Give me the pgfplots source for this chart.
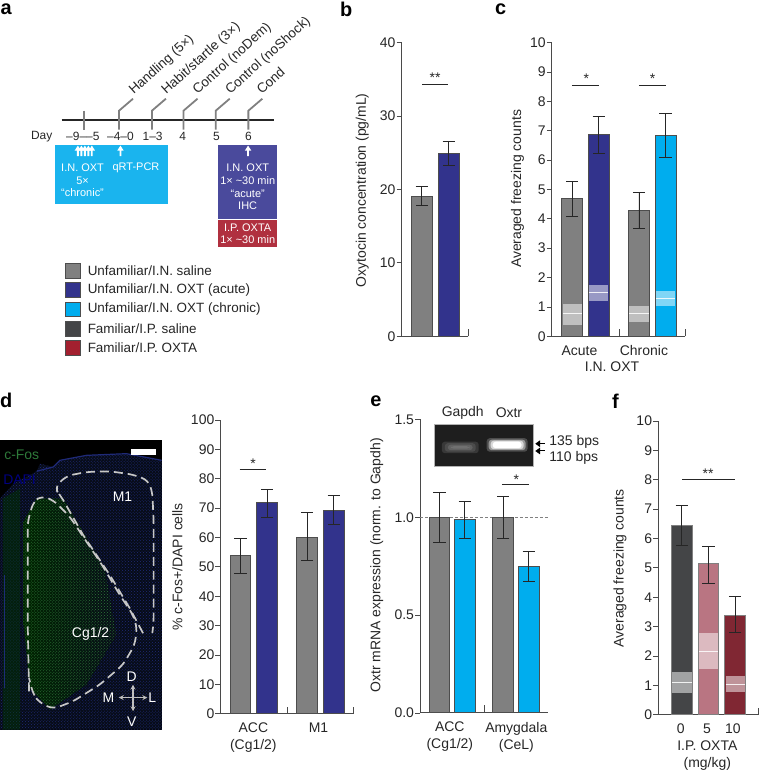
\documentclass[border=0pt]{standalone}
\usepackage{pgfplots}
\pgfplotsset{compat=1.18}
\usepackage{fontspec}
\setmainfont{Liberation Sans}
\usetikzlibrary{patterns}
\definecolor{ax}{HTML}{4A4A4A}
\definecolor{ink}{HTML}{262626}
\definecolor{gbar}{HTML}{808080}
\definecolor{bluebar}{HTML}{32338C}
\definecolor{cyanbar}{HTML}{00ADEE}
\definecolor{dkbar}{HTML}{444547}
\definecolor{redleg}{HTML}{A3202F}
\definecolor{pinkbar}{HTML}{B97582}
\definecolor{maroon}{HTML}{802733}
\definecolor{boxcyan}{HTML}{1AB4EE}
\definecolor{boxblue}{HTML}{4A4A9C}
\definecolor{boxred}{HTML}{B0303F}
\definecolor{edge}{HTML}{4D4D4D}
\definecolor{tissue}{HTML}{070C18}
\definecolor{gel}{HTML}{1E1E1E}
\definecolor{dapi}{HTML}{1F2A78}
\definecolor{fos}{HTML}{2E7A3A}
\newcommand\fs{\fontsize{14}{17}\selectfont}
\newcommand\fa{\fontsize{11}{13}\selectfont}
\newcommand\fl{\fontsize{13.5}{16}\selectfont}
\newcommand\fb{\fontsize{20}{24}\selectfont\bfseries}
\pgfplotsset{
 panel/.style={scale only axis, anchor=south west, clip=false,
  axis lines=left, axis line style={-,draw=ax,line width=.9pt},
  tick align=outside, major tick length=5pt,
  ytick style={draw=ax,line width=.8pt}, xtick style={draw=none},
  ymin=0, xtick=\empty,
  /pgf/number format/assume math mode=true,
  tick label style={font=\fs,text=ink},
  yticklabel style={inner sep=1pt},
  xticklabel style={align=center,inner sep=0pt,yshift=-4pt},
  label style={font=\fs,text=ink},
 },
 barp/.style={ybar,bar width=20.7pt,bar shift=0pt,draw=edge,line width=1pt,fill=#1,
  error bars/.cd,y dir=both,y explicit,
  error bar style={line width=.9pt,color=ink},
  error mark options={rotate=90,mark size=6.2pt,line width=.9pt,color=ink},/pgfplots/.cd},
 sig/.style={ink,line width=.9pt},
}
\newcommand\band[5]{%
 \addplot[draw=none,fill=white,fill opacity=.5] coordinates {(#1,#3)(#2,#3)(#2,#4)(#1,#4)} --cycle;
 \addplot[white,line width=1pt,opacity=.85] coordinates {(#1,#5)(#2,#5)};}
\newcommand\upar[2]{\fill[white] (#1-.9,#2+10.5) -- (#1+.9,#2+10.5) -- (#1+.9,#2+5) -- (#1+3.2,#2+5) -- (#1,#2) -- (#1-3.2,#2+5) -- (#1-.9,#2+5) -- cycle;}
\newcommand\bent[1]{\draw[gbar,line width=1.8pt] (#1,130) -- (#1,111) -- (#1+14,99);}
\newcommand\layer[5]{\fill[#5,rounded corners=3pt] (#1,#2) rectangle (#3,#4);}
\begin{document}
\begin{tikzpicture}[x=1pt,y=1pt]
\path (0,0) rectangle (761,774);
\begin{scope}[x=1pt,y=-1pt,shift={(0pt,774pt)}]
 % panel letters
 \foreach \t/\x/\y in {a/6/9,b/347/9,c/502/9,d/6/402,e/377/402,f/617/402}
  \node[font=\fb,text=black,inner sep=0pt] at (\x,\y) {\t};
 % panel a
 \draw[ink,line width=2pt] (61.7,120.3) -- (274.7,120.3);
 \draw[gbar,line width=1.8pt] (84,111) -- (84,130.3);
 \bent{119.3}\bent{152.3}\bent{184}\bent{216.3}\bent{249}
 \foreach \x/\t in {134/{Handling (5×)},166.7/{Habit/startle (3×)},198/{Control (noDem)},230.7/{Control (noShock)},262.3/Cond}
  \node[font=\fl,text=ink,rotate=42,anchor=base west,inner sep=0pt] at (\x,95) {\t};
 \foreach \x/\t in {41.7/Day,83/{–9–{}–5},120.7/{–4–0},153/{1–3},183/4,217/5,249/6}
  \node[font=\fontsize{12}{14}\selectfont,text=ink,inner sep=0pt] at (\x,136.7) {\t};
 \fill[boxcyan] (55,145) rectangle (168.3,204.3);
 \fill[boxblue] (218.3,145) rectangle (277.3,219.3);
 \fill[boxred] (218.3,221) rectangle (277.3,247.7);
 \foreach \x in {78,81.5,85,88.5,92} {\upar{\x}{146}}
 \upar{120.7}{146}\upar{248.7}{146}
 \foreach \x/\y/\t in {82.7/168/{I.N. OXT},82.7/181.3/{5×},82.7/193.3/{“chronic”},136.3/168/{qRT-PCR},
   248.3/168/{I.N. OXT},248.3/181/{1× \textasciitilde 30 min},248.3/194/{“acute”},248.3/206/{IHC},
   248.3/228/{I.P. OXTA},248.3/240.5/{1× \textasciitilde 30 min}}
  \node[font=\fa,text=white,inner sep=0pt] at (\x,\y) {\t};
 % legend
 \foreach \y/\c/\t in {271.7/gbar/{Unfamiliar/I.N. saline},291/bluebar/{Unfamiliar/I.N. OXT (acute)},310.3/cyanbar/{Unfamiliar/I.N. OXT (chronic)},329.7/dkbar/{Familiar/I.P. saline},349/redleg/{Familiar/I.P. OXTA}} {
  \fill[\c,draw=edge,line width=1pt] (65.5,\y-7.3) rectangle (80.3,\y+7.3);
  \node[font=\fl,text=ink,anchor=west,inner sep=0pt] at (87.7,\y) {\t};
 }
 % photo in panel d
 \fill[black] (0,441) rectangle (162,732);
 \begin{scope}[x=.3333pt,y=-.3333pt,shift={(0pt,-390pt)}]
  \def\tis{(0,330) -- (40,285) -- (110,248) -- (120,225) -- (160,235) -- (180,215) -- (260,200) -- (380,195) -- (486,215) -- (486,1025) -- (0,1025) -- cycle}
  \fill[tissue] \tis;
  \fill[pattern=crosshatch dots,pattern color=dapi] \tis;
  \draw[dapi,line width=1.2pt] (110,248) -- (160,235) -- (180,215) -- (260,200) -- (380,195) -- (486,215);
  \fill[green!22!black,opacity=.45] (8,330) -- (60,300) -- (60,1025) -- (8,1025) -- cycle;
  \begin{scope}
   \clip (70,400) -- (110,330) -- (190,330) -- (315,540) -- (350,740) -- (260,890) -- (150,965) -- (90,900) -- (70,700) -- cycle;
   \shade[left color=green!14!black,right color=tissue] (70,300) rectangle (350,980);
   \fill[pattern=crosshatch dots,pattern color=fos] (60,300) rectangle (350,980);
  \end{scope}
  \draw[dapi,line width=1pt] (12,560) -- (12,900);
  \draw[white!78!black,line width=1.7pt,dash pattern=on 9pt off 5pt,rounded corners=6pt]
   (87,910) -- (83,700) -- (83,400) -- (100,340) -- (125,322) -- (160,335) -- (210,385) -- (260,460) -- (310,535) -- (360,620) -- (400,680) -- (412,720) -- (405,770) -- (370,830) -- (300,890) -- (220,940) -- (160,963) -- (120,945) -- (100,920) -- (87,870);
  \draw[white!78!black,line width=1.7pt,dash pattern=on 9pt off 5pt,rounded corners=6pt]
   (170,305) -- (165,295) -- (200,262) -- (260,250) -- (330,248) -- (400,258) -- (445,275) -- (458,310) -- (462,400) -- (462,700) -- (458,735);
  \draw[white!78!black,line width=1.7pt,dash pattern=on 9pt off 5pt]
   (430,735) -- (390,660) -- (330,560) -- (250,440) -- (190,335) -- (170,305);
  \draw[white!75!black,line width=1.2pt,<->,>=stealth] (357,929) -- (443,929);
  \draw[white!75!black,line width=1.2pt,<->,>=stealth] (400,890) -- (400,970);
 \end{scope}
 \fill[white] (131,450.7) rectangle (156.7,456.7);
 \node[font=\fs,text=fos,anchor=west,inner sep=0pt] at (4,455.7) {c-Fos};
 \node[font=\fs,text=blue!50!black,anchor=west,inner sep=0pt] at (3,480.7) {DAPI};
 \foreach \x/\y/\t in {122.7/498.3/M1,90.7/635.7/{Cg1/2},132/678.3/D,108.7/699.3/M,152.7/699.3/L,132/723.3/V}
  \node[font=\fs,text=white,inner sep=0pt] at (\x,\y) {\t};
 % gel in panel e
 \fill[gel,draw=white!70!black,line width=.6pt] (435,426) rectangle (534.3,467.3);
 \layer{443}{443}{480}{454.5}{white!22!black}
 \layer{446}{444.5}{477}{453}{white!30!black}
 \layer{449}{446}{474}{451.5}{white!38!black}
 \layer{452}{447.5}{471}{450}{white!44!black}
 \layer{488}{439.5}{529}{453}{white!30!black}
 \layer{490}{441}{527}{451.5}{white!60!black}
 \layer{492}{442}{525}{450.5}{white!85!black}
 \layer{494}{443}{523}{449.5}{white}
 \foreach \y in {445,452.3} {
  \fill[black] (536.7,\y) -- (541.5,\y-3.4) -- (541.5,\y+3.4) -- cycle;
  \draw[black,line width=1pt] (541,\y) -- (546,\y);
 }
 \node[font=\fs,text=ink,inner sep=0pt] at (464,414.3) {Gapdh};
 \node[font=\fs,text=ink,inner sep=0pt] at (510.3,414.3) {Oxtr};
 \node[font=\fs,text=ink,anchor=west,inner sep=0pt] at (550.7,443.3) {135 bps};
 \node[font=\fs,text=ink,anchor=west,inner sep=0pt] at (550.7,459) {110 bps};
\end{scope}
% panel b
\begin{axis}[panel,at={(402.7pt,436.7pt)},width=67pt,height=294.6pt,xmin=402.7,xmax=469.7,ymax=40,ytick={0,10,20,30,40},
 ylabel={Oxytocin concentration (pg/mL)},ylabel style={at={(axis description cs:0,.5)},anchor=center,yshift=39.4pt,xshift=-1pt}]
 \addplot[barp=gbar] coordinates {(423,19.1) += (0,1.3) -= (0,1.3)};
 \addplot[barp=bluebar] coordinates {(449.9,24.9) += (0,1.7) -= (0,1.7)};
 \addplot[sig] coordinates {(423.3,34.35)(449.3,34.35)};
 \node[font=\fs,text=ink,anchor=base] at (axis cs:436.3,34.5) {**};
 \addplot[ax,line width=.9pt] coordinates {(469.7,0)(469.7,.95)};
\end{axis}
% panel c
\begin{axis}[panel,at={(553.3pt,436.7pt)},width=134pt,height=294.6pt,xmin=553.3,xmax=687.3,ymax=10,ytick={0,1,...,10},
 xtick={581,645.7},xticklabels={Acute,Chronic},
 ylabel={Averaged freezing counts},ylabel style={at={(axis description cs:0,.5)},anchor=center,yshift=34.3pt,xshift=.5pt},
 xlabel={I.N. OXT},xlabel style={at={(axis cs:613.7,0)},anchor=center,yshift=-30pt}]
 \addplot[barp=gbar] coordinates {(573.8,4.68) += (0,.6) -= (0,.61)};
 \band{564.3}{583.4}{.38}{1.10}{.76}
 \addplot[barp=bluebar] coordinates {(600.5,6.855) += (0,.615) -= (0,.625)};
 \band{591}{610}{1.21}{1.75}{1.48}
 \addplot[barp=gbar] coordinates {(640.7,4.3) += (0,.61) -= (0,.63)};
 \band{631}{650.4}{.49}{1.02}{.76}
 \addplot[barp=cyanbar] coordinates {(667.5,6.83) += (0,.75) -= (0,.73)};
 \band{658}{677}{1.02}{1.53}{1.28}
 \addplot[sig] coordinates {(573.3,8.55)(600.7,8.55)};
 \node[font=\fs,text=ink,anchor=base] at (axis cs:588,8.6) {*};
 \addplot[sig] coordinates {(640.7,8.55)(667.7,8.55)};
 \node[font=\fs,text=ink,anchor=base] at (axis cs:654.3,8.6) {*};
 \addplot[ax,line width=.9pt] coordinates {(620.7,0)(620.7,.24)};
 \addplot[ax,line width=.9pt] coordinates {(687.3,0)(687.3,.24)};
\end{axis}
% panel d
\begin{axis}[panel,at={(221pt,58.3pt)},width=133.7pt,height=294.4pt,xmin=221,xmax=354.7,ymax=100,ytick={0,10,...,100},
 xtick={254,319.3},xticklabels={{ACC\\(Cg1/2)},M1},
 ylabel={\% c-Fos+/DAPI cells},ylabel style={at={(axis description cs:0,.5)},anchor=center,yshift=43.3pt,xshift=0pt}]
 \addplot[barp=gbar] coordinates {(241,53.8) += (0,6) -= (0,6.1)};
 \addplot[barp=bluebar] coordinates {(267.8,71.8) += (0,4.5) -= (0,4.8)};
 \addplot[barp=gbar] coordinates {(307.8,60.1) += (0,8.3) -= (0,8)};
 \addplot[barp=bluebar] coordinates {(334.7,69.2) += (0,5.1) -= (0,4.9)};
 \addplot[sig] coordinates {(240.3,83.2)(266.7,83.2)};
 \node[font=\fs,text=ink,anchor=base] at (axis cs:253.7,83.4) {*};
 \addplot[ax,line width=.9pt] coordinates {(287.7,0)(287.7,2.4)};
 \addplot[ax,line width=.9pt] coordinates {(354.7,0)(354.7,2.4)};
\end{axis}
% panel e
\begin{axis}[panel,at={(421.3pt,59pt)},width=128.4pt,height=294.3pt,xmin=421.3,xmax=549.7,ymax=1.5,ytick={0,.5,1,1.5},
 yticklabel style={/pgf/number format/.cd,fixed,fixed zerofill,precision=1},
 xtick={451,517.7},xticklabels={{ACC\\(Cg1/2)},{Amygdala\\(CeL)}},
 ylabel={Oxtr mRNA expression (norm. to Gapdh)},ylabel style={at={(axis description cs:0,.5)},anchor=center,yshift=43.6pt,xshift=.8pt}]
 \addplot[gray,line width=.7pt,dash pattern=on 3pt off 2pt] coordinates {(421.3,1)(549.7,1)};
 \addplot[barp=gbar] coordinates {(440.5,1) += (0,.125) -= (0,.129)};
 \addplot[barp=cyanbar] coordinates {(466,.989) += (0,.093) -= (0,.096)};
 \addplot[barp=gbar] coordinates {(504.6,1) += (0,.106) -= (0,.108)};
 \addplot[barp=cyanbar] coordinates {(530.2,.751) += (0,.073) -= (0,.08)};
 \addplot[sig] coordinates {(503.3,1.167)(530,1.167)};
 \node[font=\fs,text=ink,anchor=base] at (axis cs:517.7,1.17) {*};
 \addplot[ax,line width=.9pt] coordinates {(485.3,.005)(485.3,.042)};
\end{axis}
% panel f
\begin{axis}[panel,at={(660pt,57.3pt)},width=100.9pt,height=294.4pt,xmin=660,xmax=760.9,ymax=10,ytick={0,1,...,10},
 xtick={682.7,709,735},xticklabels={0,5,10},
 ylabel={Averaged freezing counts},ylabel style={at={(axis description cs:0,.5)},anchor=center,yshift=38.3pt,xshift=-.5pt},
 xlabel={I.P. OXTA\\(mg/kg)},xlabel style={at={(axis cs:709.3,0)},align=center,anchor=north,yshift=-23pt}]
 \addplot[barp=dkbar,draw=gray] coordinates {(683.7,6.44) += (0,.67) -= (0,.66)};
 \band{674}{693.4}{.74}{1.44}{1.09}
 \addplot[barp=pinkbar,draw=gray] coordinates {(710.5,5.14) += (0,.6) -= (0,.67)};
 \band{701}{720}{1.55}{2.77}{2.16}
 \addplot[barp=maroon,draw=gray] coordinates {(737.2,3.39) += (0,.63) -= (0,.6)};
 \band{727.6}{746.8}{.77}{1.30}{1.04}
 \addplot[sig] coordinates {(684,8.02)(737.3,8.02)};
 \node[font=\fs,text=ink,anchor=base] at (axis cs:710,8.05) {**};
 \addplot[ax,line width=.9pt] coordinates {(760.4,0)(760.4,.24)};
\end{axis}
\end{tikzpicture}
\end{document}
